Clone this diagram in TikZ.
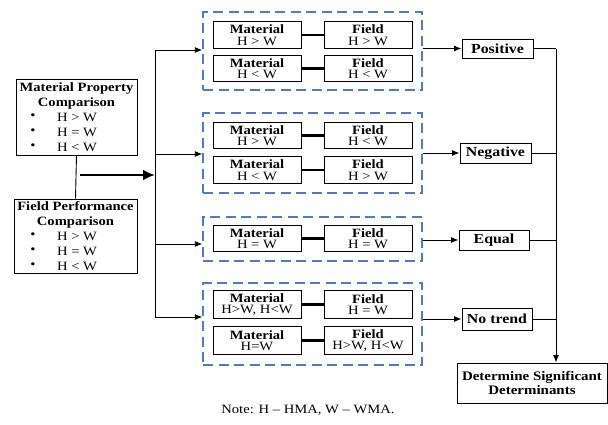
\documentclass[tikz,border=0pt]{standalone}
\usepackage{fontspec}
\setmainfont{Liberation Serif}[FakeStretch=1.15]
\usetikzlibrary{arrows.meta}
\definecolor{grpblue}{RGB}{79,124,186}
\begin{document}
\begin{tikzpicture}[x=1pt,y=-1pt,
 box/.style={draw=black, line width=1pt, inner sep=0pt, align=center},
 inbox/.style={box, minimum width=88pt, minimum height=26.5pt, font=\fontsize{12.7}{11.5}\selectfont},
 grp/.style={draw=grpblue, line width=1.4pt, dash pattern=on 10pt off 5.5pt, minimum width=219pt, inner sep=0pt},
 res/.style={box, font=\fontsize{13.8}{13}\selectfont\bfseries},
 ttl/.style={inner sep=0pt, align=center, font=\fontsize{12.7}{15}\selectfont\bfseries},
 itm/.style={inner sep=0pt, font=\fontsize{12.7}{15}\selectfont},
 link/.style={line width=2.6pt},
 arr/.style={-{Latex[length=7.5pt,width=6pt]}, line width=0.9pt},
 ln/.style={line width=0.9pt}
]
\useasboundingbox (0,0) rectangle (608,424);

% left boxes
\node[box, minimum width=121pt, minimum height=76pt] (mp) at (76.5,117) {};
\node[ttl] (mpt) at (76.5,95.5) {Material Property\\Comparison};
\node[itm] (mpb1) at (33,117) {\textbullet};
\node[itm] (mpb2) at (33,132) {\textbullet};
\node[itm] (mpb3) at (33,147) {\textbullet};
\node[itm] (mp1) at (77,117) {H > W};
\node[itm] (mp2) at (77,132) {H = W};
\node[itm] (mp3) at (77,147) {H < W};

\node[box, minimum width=123pt, minimum height=74pt] (fp) at (75.5,236) {};
\node[ttl] (fpt) at (75.5,214.5) {Field Performance\\Comparison};
\node[itm] (fpb1) at (33,236) {\textbullet};
\node[itm] (fpb2) at (33,251) {\textbullet};
\node[itm] (fpb3) at (33,266) {\textbullet};
\node[itm] (fp1) at (77,236) {H > W};
\node[itm] (fp2) at (77,251) {H = W};
\node[itm] (fp3) at (77,266) {H < W};

\draw[ln] (mp.south) -- (fp.north);
\coordinate (ta) at (80,175);
\coordinate (spT) at (155,50);
\coordinate (spB) at (155,317);
\draw[ln] (spT) -- (spB);
\draw[line width=2.6pt, -{Latex[length=12pt,width=11pt]}] (ta) -- (ta -| spT);

% groups
\node[grp, minimum height=78pt] (g1) at (312.5,51) {};
\node[grp, minimum height=80pt] (g2) at (312.5,153) {};
\node[grp, minimum height=44pt] (g3) at (312.5,239) {};
\node[grp, minimum height=82pt] (g4) at (312.5,324) {};

\node[inbox] (m11) at (257,35) {\textbf{Material}\\H > W};
\node[inbox] (f11) at (368,35) {\textbf{Field}\\H > W};
\node[inbox] (m12) at (257,68.5) {\textbf{Material}\\H < W};
\node[inbox] (f12) at (368,68.5) {\textbf{Field}\\H < W};

\node[inbox] (m21) at (257,135.5) {\textbf{Material}\\H > W};
\node[inbox] (f21) at (368,135.5) {\textbf{Field}\\H < W};
\node[inbox] (m22) at (257,170) {\textbf{Material}\\H < W};
\node[inbox] (f22) at (368,170) {\textbf{Field}\\H > W};

\node[inbox] (m31) at (257,238.5) {\textbf{Material}\\H = W};
\node[inbox] (f31) at (368,238.5) {\textbf{Field}\\H = W};

\node[inbox, minimum height=27.5pt] (m41) at (257,304.5) {\textbf{Material}\\H>W, H<W};
\node[inbox, minimum height=27.5pt] (f41) at (368,304.5) {\textbf{Field}\\H = W};
\node[inbox, minimum height=28.5pt] (m42) at (257,340.5) {\textbf{Material}\\H=W};
\node[inbox, minimum height=28.5pt] (f42) at (368,340.5) {\textbf{Field}\\H>W, H<W};

\foreach \a/\b in {m11/f11,m12/f12,m21/f21,m22/f22,m31/f31,m41/f41,m42/f42}
  \draw[link] (\a) -- (\b);

% spine arrows to groups
\draw[arr] (spT) -- (spT -| g1.west);
\coordinate (sp2) at (155,154);
\coordinate (sp3) at (155,244);
\draw[arr] (sp2) -- (sp2 -| g2.west);
\draw[arr] (sp3) -- (sp3 -| g3.west);
\draw[arr] (spB) -- (spB -| g4.west);

% results
\node[res, minimum width=71pt, minimum height=19pt] (pos) at (497.5,48.5) {Positive};
\node[res, minimum width=71pt, minimum height=20pt] (neg) at (495.5,153) {Negative};
\node[res, minimum width=70pt, minimum height=20pt] (equ) at (494,240) {Equal};
\node[res, minimum width=70pt, minimum height=22pt] (not) at (497,319) {No trend};
\node[res, minimum width=150pt, minimum height=40pt, font=\fontsize{13}{14}\selectfont\bfseries] (det) at (532,383) {Determine Significant\\Determinants};

\draw[arr] (g1.east |- pos.west) -- (pos.west);
\draw[arr] (g2.east |- neg.west) -- (neg.west);
\draw[arr] (g3.east |- equ.west) -- (equ.west);
\draw[arr] (g4.east |- not.west) -- (not.west);

\coordinate (rs) at (556,48.5);
\draw[ln] (pos.east) -- (pos.east -| rs);
\draw[ln] (neg.east) -- (neg.east -| rs);
\draw[ln] (equ.east) -- (equ.east -| rs);
\draw[ln] (not.east) -- (not.east -| rs);
\draw[arr] (rs) -- (rs |- det.north);

\node[itm] (note) at (308,410) {Note: H – HMA, W – WMA.};
\end{tikzpicture}
\end{document}
